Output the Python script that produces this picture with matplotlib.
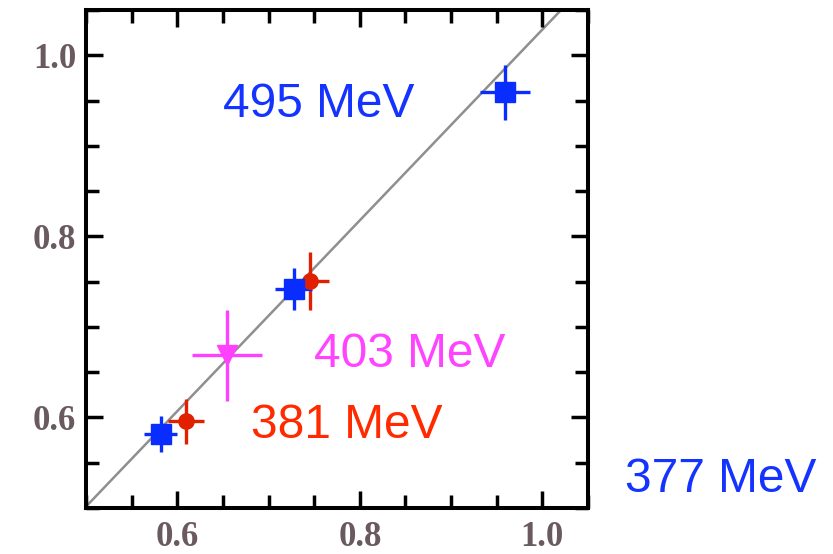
import matplotlib
matplotlib.use("Agg")
import matplotlib.pyplot as plt
from matplotlib.ticker import FixedLocator, MultipleLocator

# ---- data ----
blue_x = [0.582, 0.7275, 0.959]
blue_y = [0.582, 0.7417, 0.959]
blue_xerr = [0.018, 0.020, 0.027]
blue_yerr = [0.020, 0.023, 0.030]

red_x = [0.6095, 0.7458]
red_y = [0.5956, 0.7510]
red_xerr = [0.020, 0.020]
red_yerr = [0.025, 0.032]

mag_x = [0.6545]
mag_y = [0.6687]
mag_xerr = [0.038]
mag_yerr = [0.050]

diag_x = [0.4985, 1.0205]
diag_y = [0.50, 1.05]

major_ticks = [0.6, 0.8, 1.0]
tick_labels = ["0.6", "0.8", "1.0"]

labels = ["495 MeV", "403 MeV", "381 MeV", "377 MeV"]

# ---- figure ----
W, H = 833, 554
fig = plt.figure(figsize=(W / 100, H / 100), dpi=100)
ax = fig.add_axes([86 / W, 1 - 508 / H, (588 - 86) / W, (508 - 10) / H])

ax.plot(diag_x, diag_y, color="#8f8f8f", lw=1.8, zorder=1)

ebkw = dict(ls="none", elinewidth=2.4, capsize=0, zorder=3)
ax.errorbar(mag_x, mag_y, xerr=mag_xerr, yerr=mag_yerr, marker="v", ms=14,
            color="#ff40ff", mec="#ff40ff", **ebkw)
ax.errorbar(red_x, red_y, xerr=red_xerr, yerr=red_yerr, marker="o", ms=11,
            color="#e02000", mec="#e02000", **ebkw)
ax.errorbar(blue_x, blue_y, xerr=blue_xerr, yerr=blue_yerr, marker="s", ms=14,
            color="#0a2dff", mec="#0a2dff", **ebkw)

ax.set_xlim(0.5, 1.05)
ax.set_ylim(0.5, 1.05)

for axis in (ax.xaxis, ax.yaxis):
    axis.set_major_locator(FixedLocator(major_ticks))
    axis.set_minor_locator(MultipleLocator(0.05))
ax.set_xticklabels(tick_labels)
ax.set_yticklabels(tick_labels)

ax.tick_params(which="both", direction="in", top=True, right=True, width=2.5,
               color="black")
ax.tick_params(which="major", length=12.5)
ax.tick_params(which="minor", length=9.3)
ax.tick_params(axis="x", which="major", pad=9)
ax.tick_params(axis="y", which="major", pad=7)
for lab in ax.get_xticklabels() + ax.get_yticklabels():
    lab.set_fontfamily("Liberation Serif")
    lab.set_fontsize(25)
    lab.set_fontweight("bold")
    lab.set_color("#6a5a60")
for sp in ax.spines.values():
    sp.set_linewidth(2.9)

tkw = dict(fontsize=34.5, family="Liberation Sans", ha="left", va="baseline")
fig.text(223 / W, 1 - 116.7 / H, labels[0], color="#1433ff", **tkw)
fig.text(314 / W, 1 - 366.7 / H, labels[1], color="#ff44ff", **tkw)
fig.text(251 / W, 1 - 438.3 / H, labels[2], color="#ff2a00", **tkw)
fig.text(625 / W, 1 - 491.7 / H, labels[3], color="#1433ff", **tkw)

fig.savefig("out.png", dpi=100)
